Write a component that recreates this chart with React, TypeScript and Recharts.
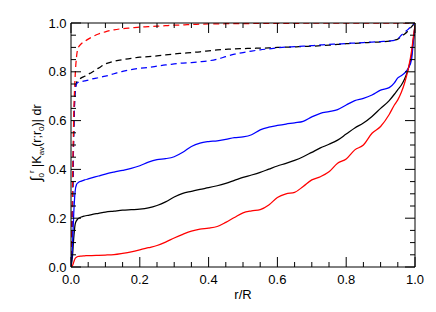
import { LineChart, Line, XAxis, YAxis } from "recharts"

// sample radii (r/R) shared by all curves
const rGrid = [
  0, 0.004, 0.008, 0.012, 0.016, 0.02, 0.03, 0.04, 0.05, 0.06, 0.08, 0.1,
  0.125, 0.15, 0.175, 0.2, 0.225, 0.25, 0.275, 0.3, 0.325, 0.35, 0.375, 0.4,
  0.425, 0.45, 0.475, 0.5, 0.525, 0.55, 0.575, 0.6, 0.625, 0.65, 0.675, 0.7,
  0.725, 0.75, 0.775, 0.8, 0.825, 0.85, 0.875, 0.9, 0.925, 0.94, 0.95, 0.96,
  0.97, 0.98, 0.99, 0.995, 1.0,
]

const redSolid = [
  0, 0.005, 0.02, 0.035, 0.04, 0.043, 0.045, 0.046, 0.047, 0.047, 0.048, 0.049,
  0.051, 0.056, 0.062, 0.07, 0.079, 0.088, 0.102, 0.119, 0.134, 0.147, 0.155, 0.159,
  0.166, 0.183, 0.203, 0.222, 0.23, 0.235, 0.254, 0.285, 0.3, 0.306, 0.33, 0.357,
  0.37, 0.39, 0.425, 0.443, 0.48, 0.5, 0.548, 0.576, 0.625, 0.664, 0.685, 0.715,
  0.755, 0.81, 0.885, 0.94, 0.99,
]

const blackSolid = [
  0, 0.04, 0.12, 0.175, 0.19, 0.197, 0.205, 0.209, 0.212, 0.215, 0.22, 0.225,
  0.229, 0.233, 0.235, 0.237, 0.242, 0.252, 0.267, 0.287, 0.302, 0.31, 0.318, 0.325,
  0.333, 0.343, 0.355, 0.367, 0.377, 0.388, 0.401, 0.414, 0.425, 0.437, 0.452, 0.47,
  0.488, 0.503, 0.52, 0.545, 0.57, 0.59, 0.617, 0.65, 0.682, 0.708, 0.727, 0.745,
  0.772, 0.81, 0.87, 0.93, 0.99,
]

const blueSolid = [
  0, 0.08, 0.22, 0.31, 0.338, 0.345, 0.352, 0.357, 0.361, 0.365, 0.373, 0.381,
  0.389, 0.396, 0.404, 0.415, 0.43, 0.44, 0.444, 0.452, 0.47, 0.494, 0.508, 0.514,
  0.517, 0.523, 0.53, 0.533, 0.542, 0.562, 0.573, 0.58, 0.586, 0.591, 0.597, 0.615,
  0.63, 0.637, 0.645, 0.664, 0.682, 0.691, 0.705, 0.725, 0.735, 0.755, 0.775, 0.784,
  0.795, 0.813, 0.85, 0.92, 0.99,
]

const redDashed = [
  0, 0.3, 0.62, 0.78, 0.86, 0.895, 0.915, 0.925, 0.934, 0.942, 0.955, 0.964,
  0.972, 0.977, 0.98, 0.983, 0.985, 0.987, 0.989, 0.991, 0.992, 0.994, 0.995, 0.996,
  0.996, 0.997, 0.997, 0.997, 0.998, 0.998, 0.998, 0.998, 0.998, 0.998, 0.999, 0.999,
  0.999, 0.999, 0.999, 0.999, 0.999, 0.999, 0.999, 0.999, 0.999, 0.999, 0.999, 0.999,
  0.999, 0.999, 1.0, 1.0, 1.0,
]

const blackDashed = [
  0, 0.2, 0.55, 0.72, 0.755, 0.765, 0.775, 0.782, 0.79, 0.797, 0.815, 0.832,
  0.843, 0.85, 0.855, 0.86, 0.862, 0.865, 0.869, 0.873, 0.876, 0.879, 0.882, 0.886,
  0.89, 0.892, 0.894, 0.895, 0.896, 0.897, 0.898, 0.9, 0.901, 0.902, 0.904, 0.905,
  0.907, 0.909, 0.912, 0.915, 0.917, 0.919, 0.921, 0.923, 0.926, 0.93, 0.934, 0.945,
  0.955, 0.968, 0.985, 0.993, 1.0,
]

const blueDashed = [
  0, 0.2, 0.55, 0.72, 0.75, 0.756, 0.76, 0.763, 0.766, 0.77, 0.776, 0.782,
  0.792, 0.802, 0.809, 0.814, 0.818, 0.823, 0.828, 0.832, 0.836, 0.838, 0.841, 0.845,
  0.852, 0.862, 0.872, 0.879, 0.885, 0.89, 0.894, 0.898, 0.901, 0.903, 0.905, 0.907,
  0.91, 0.912, 0.914, 0.916, 0.918, 0.92, 0.922, 0.924, 0.926, 0.929, 0.935, 0.95,
  0.962, 0.974, 0.988, 0.995, 1.0,
]

// every 0.05 gets a tick, every 0.2 a long one with a label
const axisTicks = [
  0, 0.05, 0.1, 0.15, 0.2, 0.25, 0.3, 0.35, 0.4, 0.45, 0.5,
  0.55, 0.6, 0.65, 0.7, 0.75, 0.8, 0.85, 0.9, 0.95, 1.0,
]

const data = rGrid.map((r, i) => ({
  r,
  redSolid: redSolid[i],
  blackSolid: blackSolid[i],
  blueSolid: blueSolid[i],
  redDashed: redDashed[i],
  blackDashed: blackDashed[i],
  blueDashed: blueDashed[i],
}))

const FONT = "'Liberation Sans', Arial, sans-serif"
const MAJOR = 10
const MINOR = 5
const LW = 1.25

const isMajor = (v: number) => Math.abs(v * 5 - Math.round(v * 5)) < 1e-6

// tickSize/tickMargin are 0, so (x, y) is the point on the axis line
function BottomTick({ x, y, payload }: any) {
  const major = isMajor(payload.value)
  return (
    <g>
      <line x1={x} x2={x} y1={y} y2={y - (major ? MAJOR : MINOR)} stroke="#000" />
      {major && (
        <text x={x} y={y + 16.5} textAnchor="middle" fontSize={13} fill="#000" fontFamily={FONT}>
          {payload.value.toFixed(1)}
        </text>
      )}
    </g>
  )
}

function TopTick({ x, y, payload }: any) {
  const major = isMajor(payload.value)
  return <line x1={x} x2={x} y1={y} y2={y + (major ? MAJOR : MINOR)} stroke="#000" />
}

function LeftTick({ x, y, payload }: any) {
  const major = isMajor(payload.value)
  return (
    <g>
      <line x1={x} x2={x + (major ? MAJOR : MINOR)} y1={y} y2={y} stroke="#000" />
      {major && (
        <text x={x - 4.5} y={y} dy="0.36em" textAnchor="end" fontSize={13} fill="#000" fontFamily={FONT}>
          {payload.value.toFixed(1)}
        </text>
      )}
    </g>
  )
}

function RightTick({ x, y, payload }: any) {
  const major = isMajor(payload.value)
  return <line x1={x} x2={x - (major ? MAJOR : MINOR)} y1={y} y2={y} stroke="#000" />
}

function YLabel({ viewBox }: any) {
  const cx = viewBox.x + 41
  const cy = viewBox.y + viewBox.height / 2 - 2
  return (
    <text
      x={cx}
      y={cy}
      transform={`rotate(-90 ${cx} ${cy})`}
      textAnchor="middle"
      fontSize={12.5}
      fill="#000"
      fontFamily={FONT}
    >
      <tspan fontSize={15}>∫</tspan>
      <tspan fontSize={8} dy={3}>0</tspan>
      <tspan fontSize={8} dy={-10}>r</tspan>
      <tspan dy={7}> |K</tspan>
      <tspan fontSize={8} dy={3}>av</tspan>
      <tspan dy={-3}>(r;r</tspan>
      <tspan fontSize={8} dy={3}>0</tspan>
      <tspan dy={-3}>)| dr</tspan>
    </text>
  )
}

const common = {
  type: "number" as const,
  domain: [0, 1],
  ticks: axisTicks,
  interval: 0,
  tickLine: false,
  tickSize: 0,
  tickMargin: 0,
  allowDataOverflow: true,
  axisLine: { stroke: "#000" },
}

export default function App() {
  return (
    <div style={{ position: "absolute", left: 0, top: 0, background: "#fff", fontFamily: FONT }}>
      <LineChart
        width={436}
        height={312}
        data={data}
        margin={{ top: 22, right: 20, bottom: 0, left: 0 }}
      >
        <XAxis
          {...common}
          xAxisId="b"
          dataKey="r"
          orientation="bottom"
          height={45}
          tick={BottomTick}
          label={{
            value: "r/R",
            position: "insideBottom",
            offset: 13,
            fill: "#000",
            fontSize: 13,
            fontFamily: FONT,
          }}
        />
        {/* the frame's top and right sides need a non-zero size or they are skipped */}
        <XAxis {...common} xAxisId="t" dataKey="r" orientation="top" height={1} tick={TopTick} />
        <YAxis {...common} yAxisId="l" orientation="left" width={71} tick={LeftTick} label={{ content: YLabel }} />
        <YAxis {...common} yAxisId="r" orientation="right" width={1} tick={RightTick} />

        <Line xAxisId="b" yAxisId="l" type="monotone" dataKey="blackDashed" stroke="#000" strokeWidth={LW} strokeDasharray="6 4" dot={false} isAnimationActive={false} />
        <Line xAxisId="b" yAxisId="l" type="monotone" dataKey="blueDashed" stroke="#0000ff" strokeWidth={LW} strokeDasharray="6 4" dot={false} isAnimationActive={false} />
        <Line xAxisId="b" yAxisId="l" type="monotone" dataKey="redDashed" stroke="#ff0000" strokeWidth={LW} strokeDasharray="6 4" dot={false} isAnimationActive={false} />
        <Line xAxisId="b" yAxisId="l" type="monotone" dataKey="blackSolid" stroke="#000" strokeWidth={LW} dot={false} isAnimationActive={false} />
        <Line xAxisId="b" yAxisId="l" type="monotone" dataKey="blueSolid" stroke="#0000ff" strokeWidth={LW} dot={false} isAnimationActive={false} />
        <Line xAxisId="b" yAxisId="l" type="monotone" dataKey="redSolid" stroke="#ff0000" strokeWidth={LW} dot={false} isAnimationActive={false} />
      </LineChart>
    </div>
  )
}
